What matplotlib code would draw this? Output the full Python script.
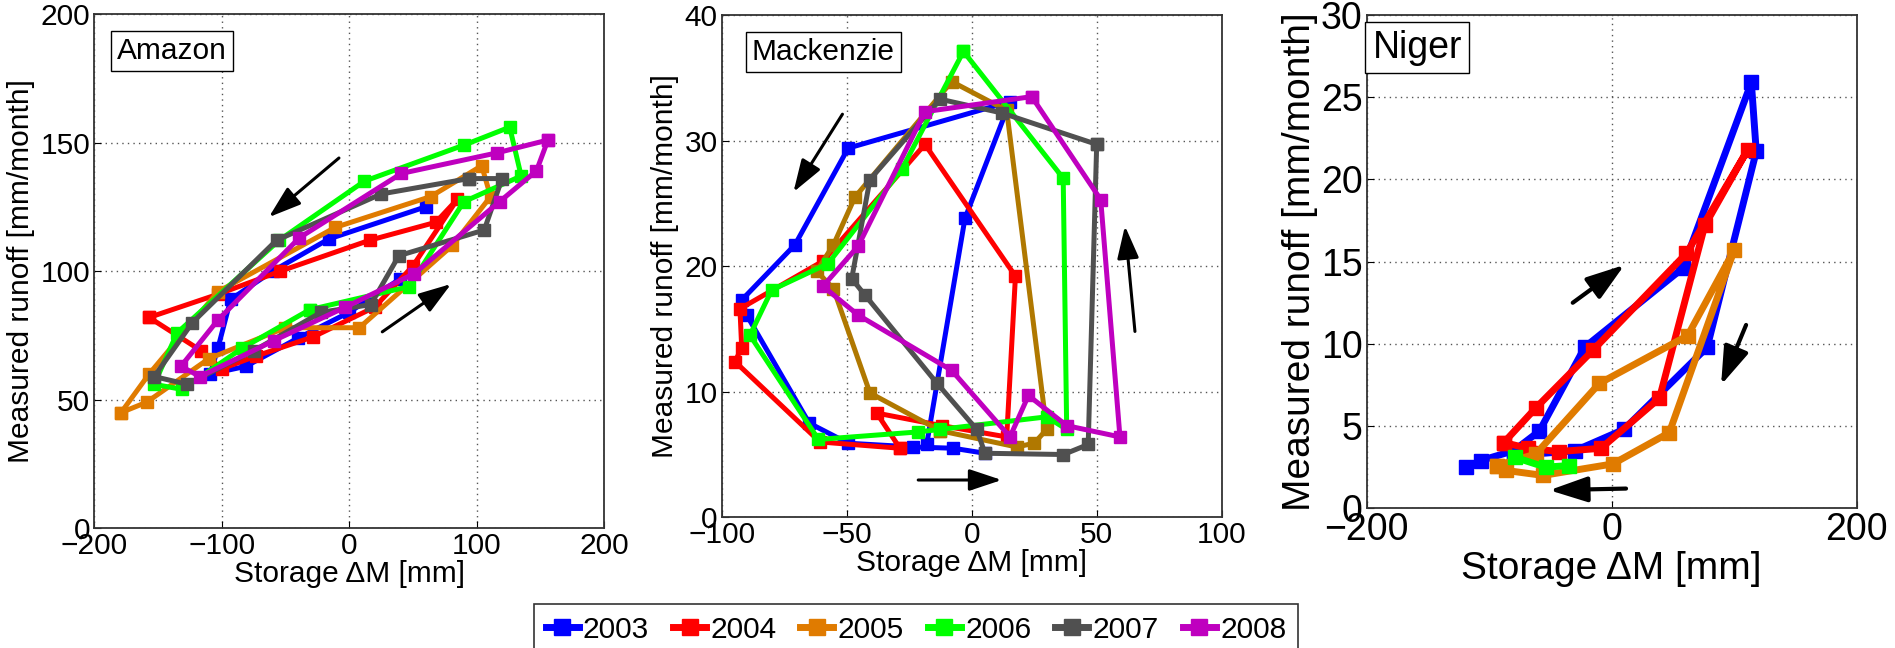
import matplotlib
matplotlib.use("Agg")
import matplotlib.pyplot as plt
from matplotlib.lines import Line2D

plt.rcParams['font.family'] = ['Liberation Sans', 'DejaVu Sans']

years = ['2003', '2004', '2005', '2006', '2007', '2008']
colors = ['#0000FF', '#FF0000', '#E07B00', '#00FF00', '#505050', '#BF00BF']
mack_orange = '#B07800'

# ---------------- Amazon ----------------
amazon_2003_x = [60, -16, -60, -93, -103, -109, -81, -40, 0, 40]
amazon_2003_y = [125, 112.5, 100, 89, 70, 60, 63, 74, 84, 97]
amazon_2004_x = [-157, -116, -100, -73, -28, 20, 50, 85, 68, 16, -54, -103, -157]
amazon_2004_y = [82, 69, 62, 67, 74.5, 86, 102, 128, 119, 112, 100, 91, 82]
amazon_2005_x = [-179, -159, -110, -50, 8, 81, 111, 104, 64, -11, -103, -157, -179]
amazon_2005_y = [45, 49, 66, 78, 78, 110, 129, 141, 129, 117, 92, 60, 45]
amazon_2006_x = [-31, -84, -131, -153, -135, -55, 12, 90, 126, 135, 90, 47, -31]
amazon_2006_y = [85, 70, 54, 56, 76, 112, 135, 149, 156, 137, 127, 94, 85]
amazon_2007_x = [94, 120, 106, 39, 17, -22, -75, -127, -153, -123, -57, 25, 94]
amazon_2007_y = [136, 136, 116, 106, 87, 84, 69, 56, 59, 80, 112, 130, 136]
amazon_2008_x = [156, 147, 118, 51, -3, -59, -117, -132, -103, -39, 41, 116, 156]
amazon_2008_y = [151, 139, 127, 99, 86, 73, 59, 63, 81, 113, 138, 146, 151]

# ---------------- Mackenzie ----------------
mack_2003_x = [-18, -2.7, 15.3, -49.4, -70.7, -92, -90, -65, -49.4, -23.4, -7.4, 5.3]
mack_2003_y = [5.8, 23.8, 33.1, 29.4, 21.7, 17.3, 16.1, 7.5, 5.9, 5.6, 5.5, 5.1]
mack_2004_x = [-28.7, -38, -12, 14, 17.5, -18.7, -59.5, -92.7, -92, -94.7, -60.7, -28.7]
mack_2004_y = [5.5, 8.3, 7.3, 6.4, 19.2, 29.7, 20.4, 16.6, 13.5, 12.4, 6.0, 5.5]
mack_2005_x = [-12.7, 18, 25, 30, 14, -8, -46.7, -55.3, -62, -55.3, -40.7, -12.7]
mack_2005_y = [6.9, 5.6, 5.9, 7, 32.4, 34.7, 25.5, 21.7, 19.6, 18.2, 9.9, 6.9]
mack_2006_x = [-3.3, 36.6, 38, 30, -12.7, -21.3, -61.3, -88.7, -80, -57.5, -28, -3.3]
mack_2006_y = [37.1, 27, 7, 8, 7, 6.8, 6.2, 14.5, 18.1, 20.2, 27.7, 37.1]
mack_2007_x = [50, 46.6, 36.7, 5.3, 2, -14, -42.7, -48, -40.7, -12.7, 12, 50]
mack_2007_y = [29.7, 5.8, 5.0, 5.1, 7, 10.7, 17.7, 19, 26.9, 33.3, 32.2, 29.7]
mack_2008_x = [24, 51.6, 59.3, 38, 22.7, 15.3, -8, -45.4, -59.5, -45.4, -18.7, 24]
mack_2008_y = [33.5, 25.3, 6.4, 7.3, 9.7, 6.4, 11.7, 16.1, 18.4, 21.6, 32.3, 33.5]

# ---------------- Niger ----------------
niger_2003_x = [-119, -107, -80, -59, -22, 58, 114, 118, 78, 10, -30, -80]
niger_2003_y = [2.5, 2.9, 3.5, 4.7, 9.8, 14.6, 25.9, 21.7, 9.8, 4.8, 3.5, 3.2]
niger_2004_x = [-88, -62, -15.5, 61, 111, 76, 39, -8.7, -43, -68.6, -88]
niger_2004_y = [4, 6.1, 9.6, 15.5, 21.8, 17.2, 6.7, 3.65, 3.45, 3.65, 4]
niger_2005_x = [-94, -62, -10, 62, 100, 47, 1, -56, -86, -94]
niger_2005_y = [2.6, 3.3, 7.6, 10.5, 15.7, 4.6, 2.7, 2.0, 2.3, 2.6]
niger_2006_x = [-79, -54, -35]
niger_2006_y = [3.1, 2.5, 2.6]

W, H = 1895, 648
fig = plt.figure(figsize=(W / 100, H / 100), dpi=100)

FS = 21.5     # Amazon / Mackenzie text
FSN = 28      # Niger text


def px_axes(l, r, t, b):
    return fig.add_axes([l / W, 1 - b / H, (r - l) / W, (b - t) / H])


def style(ax, fs):
    ax.grid(True, linestyle=(0, (1, 3)), color='#555555', linewidth=1.0)
    ax.tick_params(direction='in', length=5, labelsize=fs, pad=3)
    for s in ax.spines.values():
        s.set_color('#333333')
        s.set_linewidth(1.3)
    ax.set_axisbelow(True)


def arrow(ax, x0, y0, x1, y1, lw=2.2, ms=22):
    ax.annotate('', xy=(x1, y1), xytext=(x0, y0),
                arrowprops=dict(arrowstyle='-|>,head_length=0.9,head_width=0.3',
                                color='black', lw=lw, mutation_scale=ms,
                                shrinkA=0, shrinkB=0))


def label_box(ax, text, x, y, fs):
    ax.text(x, y, text, transform=ax.transAxes, fontsize=fs, va='top', ha='left',
            bbox=dict(boxstyle='square,pad=0.2', fc='white', ec='black', lw=1.0),
            zorder=10)


# Amazon
ax1 = px_axes(94.3, 604, 14, 528.3)
am = [(amazon_2003_x, amazon_2003_y), (amazon_2004_x, amazon_2004_y),
      (amazon_2005_x, amazon_2005_y), (amazon_2006_x, amazon_2006_y),
      (amazon_2007_x, amazon_2007_y), (amazon_2008_x, amazon_2008_y)]
for (x, y), c in zip(am, colors):
    ax1.plot(x, y, '-s', color=c, lw=3.6, ms=8)
ax1.set_xlim(-200, 200)
ax1.set_ylim(0, 200)
ax1.set_xticks([-200, -100, 0, 100, 200])
ax1.set_yticks([0, 50, 100, 150, 200])
style(ax1, FS)
ax1.set_xlabel('Storage ΔM [mm]', fontsize=FS, labelpad=0)
ax1.set_ylabel('Measured runoff [mm/month]', fontsize=FS, labelpad=4)
label_box(ax1, 'Amazon', 0.045, 0.955, FS)
arrow(ax1, -8, 144, -63, 121)
arrow(ax1, 26, 76.4, 80, 95)

# Mackenzie
ax2 = px_axes(721.7, 1221.7, 15, 517.3)
mk = [(mack_2003_x, mack_2003_y), (mack_2004_x, mack_2004_y),
      (mack_2005_x, mack_2005_y), (mack_2006_x, mack_2006_y),
      (mack_2007_x, mack_2007_y), (mack_2008_x, mack_2008_y)]
mk_colors = [colors[0], colors[1], mack_orange, colors[3], colors[4], colors[5]]
for (x, y), c in zip(mk, mk_colors):
    ax2.plot(x, y, '-s', color=c, lw=3.6, ms=8)
ax2.set_xlim(-100, 100)
ax2.set_ylim(0, 40)
ax2.set_xticks([-100, -50, 0, 50, 100])
ax2.set_yticks([0, 10, 20, 30, 40])
style(ax2, FS)
ax2.set_xlabel('Storage ΔM [mm]', fontsize=FS, labelpad=0)
ax2.set_ylabel('Measured runoff [mm/month]', fontsize=FS, labelpad=4)
label_box(ax2, 'Mackenzie', 0.06, 0.955, FS)
arrow(ax2, -51.7, 32.1, -71.3, 25.9)
arrow(ax2, -21.4, 2.97, 12, 2.97)
arrow(ax2, 65.3, 14.8, 61.3, 23.2)

# Niger
ax3 = px_axes(1366.7, 1856.7, 15, 508.3)
ng = [(niger_2003_x, niger_2003_y), (niger_2004_x, niger_2004_y),
      (niger_2005_x, niger_2005_y), (niger_2006_x, niger_2006_y)]
for (x, y), c in zip(ng, colors):
    ax3.plot(x, y, '-s', color=c, lw=5, ms=10.5)
ax3.set_xlim(-200, 200)
ax3.set_ylim(0, 30)
ax3.set_xticks([-200, 0, 200])
ax3.set_yticks([0, 5, 10, 15, 20, 25, 30])
style(ax3, 27)
ax3.set_xlabel('Storage ΔM [mm]', fontsize=FSN, labelpad=2)
ax3.set_ylabel('Measured runoff [mm/month]', fontsize=FSN, labelpad=2)
label_box(ax3, 'Niger', 0.012, 0.97, 27)
arrow(ax3, -31.8, 12.5, 10.4, 14.8, lw=3, ms=26)
arrow(ax3, 109.7, 11.15, 89.3, 7.5, lw=3, ms=26)
arrow(ax3, 11.7, 1.2, -50.9, 1.1, lw=3, ms=26)

handles = [Line2D([], [], color=c, marker='s', lw=5, ms=11) for c in colors]
leg = fig.legend(handles, years, loc='upper center', bbox_to_anchor=(916 / W, 1 - 604 / H),
                 ncol=6, fontsize=21.5, frameon=True, fancybox=False, handlelength=1.1,
                 handletextpad=0.15, columnspacing=0.8, borderpad=0.4, borderaxespad=0,
                 edgecolor='black')
leg.get_frame().set_linewidth(1.2)

fig.savefig('out.png', dpi=100)
